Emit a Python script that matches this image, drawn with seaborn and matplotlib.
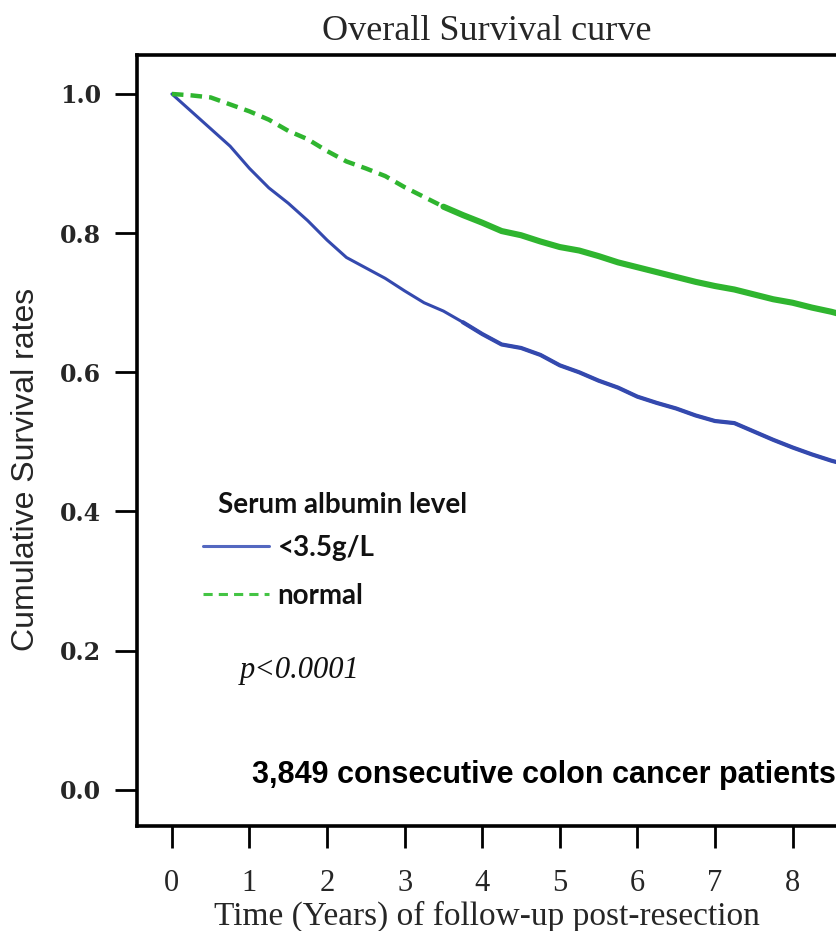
import numpy as np
import pandas as pd
import matplotlib
matplotlib.use("Agg")
import matplotlib.pyplot as plt
import seaborn as sns
from matplotlib.lines import Line2D

# ---- data ----
years = [0, 0.25, 0.5, 0.75, 1.0, 1.25, 1.5, 1.75, 2.0, 2.25, 2.5, 2.75, 3.0, 3.25,
         3.5, 3.75, 4.0, 4.25, 4.5, 4.75, 5.0, 5.25, 5.5, 5.75, 6.0, 6.25, 6.5, 6.75,
         7.0, 7.25, 7.5, 7.75, 8.0, 8.25, 8.5, 8.6]
low_albumin = [1.000, 0.975, 0.950, 0.925, 0.893, 0.865, 0.843, 0.818, 0.790, 0.765,
               0.750, 0.735, 0.717, 0.700, 0.688, 0.672, 0.655, 0.640, 0.635, 0.625,
               0.610, 0.600, 0.588, 0.578, 0.565, 0.556, 0.548, 0.538, 0.530, 0.527,
               0.515, 0.503, 0.492, 0.482, 0.473, 0.470]
normal_albumin = [1.000, 0.998, 0.995, 0.985, 0.975, 0.963, 0.947, 0.935, 0.918, 0.903,
                  0.893, 0.882, 0.866, 0.852, 0.838, 0.826, 0.815, 0.803, 0.797, 0.788,
                  0.780, 0.775, 0.767, 0.758, 0.751, 0.744, 0.737, 0.730, 0.724, 0.719,
                  0.712, 0.705, 0.700, 0.693, 0.687, 0.684]
group_labels = ["<3.5g/L", "normal"]
x_ticks = [0, 1, 2, 3, 4, 5, 6, 7, 8]
y_ticks = [0.0, 0.2, 0.4, 0.6, 0.8, 1.0]

df = pd.DataFrame({
    "years": years + years,
    "survival": low_albumin + normal_albumin,
    "group": [group_labels[0]] * len(years) + [group_labels[1]] * len(years),
})

sns.set_theme(style="white")
plt.rcParams["font.family"] = ["Liberation Serif", "DejaVu Serif"]

W, H = 836, 931
fig = plt.figure(figsize=(W / 100, H / 100), dpi=100)
ax = fig.add_axes([137 / W, (H - 826) / H, (W - 137) / W, (826 - 55) / H])

blue = "#3449ae"
green = "#2fb52f"

sns.lineplot(data=df[df.group == group_labels[0]], x="years", y="survival",
             color=blue, lw=2.2, ax=ax, legend=False)
sns.lineplot(data=df[df.group == group_labels[1]], x="years", y="survival",
             color=green, lw=3.2, ax=ax, legend=False)
ax.lines[1].set_dashes((2.6, 1.6))
# dense censoring marks make the later part of the curves look thicker
late = df[(df.group == group_labels[1]) & (df.years >= 3.5)]
sns.lineplot(data=late, x="years", y="survival", color=green, lw=4.4, ax=ax, legend=False)
late_b = df[(df.group == group_labels[0]) & (df.years >= 3.75)]
sns.lineplot(data=late_b, x="years", y="survival", color=blue, lw=3.0, ax=ax, legend=False)

ax.set_xlim(-0.45, 8.56)
ax.set_ylim(-0.052, 1.056)
ax.set_xticks(x_ticks)
ax.set_xticklabels([str(t) for t in x_ticks], fontsize=22, family="Liberation Serif")
ax.set_yticks(y_ticks)
ax.set_yticklabels([f"{t:.1f}" for t in y_ticks], fontsize=17, family="DejaVu Serif",
                   fontweight="semibold")
ax.tick_params(axis="both", direction="out", length=16, width=2.0, color="black",
               bottom=True, left=True)
ax.tick_params(axis="x", pad=15)
ax.tick_params(axis="y", pad=10)
for side in ["left", "top", "bottom"]:
    ax.spines[side].set_linewidth(2.6)
    ax.spines[side].set_color("black")
ax.spines["right"].set_visible(False)

ax.set_xlabel("Time (Years) of follow-up post-resection", fontsize=24,
              family="Liberation Serif", labelpad=2)
ax.set_ylabel("Cumulative Survival rates", fontsize=23, family="Liberation Sans")
ax.yaxis.set_label_coords(-0.137, 0.462)
ax.set_title("Overall Survival curve", fontsize=26, family="Liberation Serif", pad=11)

handles = [Line2D([], [], color="#5468c0", lw=2.2),
           Line2D([], [], color="#44c444", lw=2.2, dashes=(3, 2))]
leg = ax.legend(handles, group_labels, loc="upper left",
                bbox_to_anchor=(0.079, 0.392), borderaxespad=0, frameon=False,
                handlelength=2.35, handletextpad=0.32, labelspacing=0.78,
                prop={"family": "Lato", "size": 20, "weight": "bold"})
for t in leg.get_texts():
    t.set_color("#111111")

ax.text((218 - 137) / 699, 0.416, "Serum albumin level", transform=ax.transAxes,
        va="center", ha="left", fontsize=20, family="Lato", fontweight="bold",
        color="#111111")
ax.text((240 - 137) / 699, 0.202, "p<0.0001", transform=ax.transAxes, fontsize=22,
        va="center", style="italic", family="Liberation Serif", color="#111111")
ax.text(1.0, 0.066, "3,849 consecutive colon cancer patients", transform=ax.transAxes,
        ha="right", va="center", fontsize=22, family="Liberation Sans",
        fontweight="bold", color="black")

fig.savefig("out.png", dpi=100)
